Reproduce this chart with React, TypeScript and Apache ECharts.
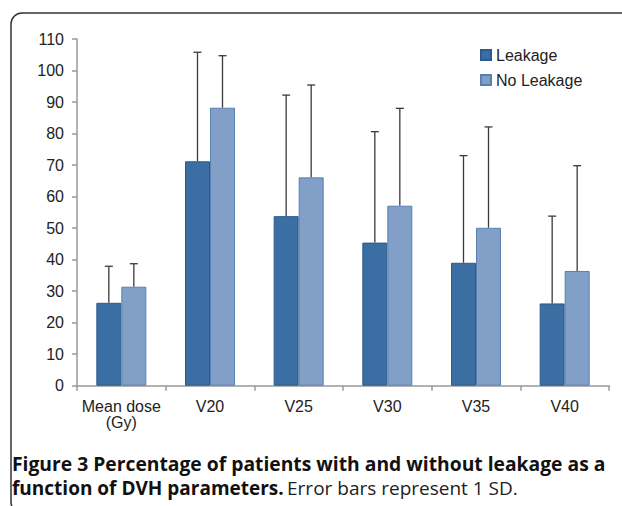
import React, { useEffect, useRef } from "react";
import * as echarts from "echarts";

const categories = ["Mean dose\n(Gy)", "V20", "V25", "V30", "V35", "V40"];
const leakage = [26.3, 71.2, 53.8, 45.4, 39.0, 26.1];
const noLeakage = [31.4, 88.2, 66.1, 57.1, 50.1, 36.4];
const leakageSD = [11.6, 34.6, 38.4, 35.2, 34.0, 27.7];
const noLeakageSD = [7.3, 16.5, 29.3, 30.9, 32.0, 33.4];
const yTicks = [0, 10, 20, 30, 40, 50, 60, 70, 80, 90, 100, 110];

const BAR_W = 25;

function errorSeries(name: string, means: number[], sds: number[], offset: number) {
  return {
    type: "custom",
    name: name + " SD",
    silent: true,
    z: 1,
    data: means.map((m, i) => [i, m, sds[i]]),
    encode: { x: 0, y: 1 },
    renderItem: (params: any, api: any) => {
      const i = api.value(0);
      const m = api.value(1);
      const sd = api.value(2);
      const p0 = api.coord([i, m]);
      const p1 = api.coord([i, m + sd]);
      const x = p0[0] + offset;
      const style = { stroke: "#3a3a3a", lineWidth: 1.3 };
      return {
        type: "group",
        children: [
          { type: "line", shape: { x1: x, y1: p0[1], x2: x, y2: p1[1] }, style },
          { type: "line", shape: { x1: x - 4, y1: p1[1], x2: x + 4, y2: p1[1] }, style },
        ],
      };
    },
  };
}

export default function App() {
  const ref = useRef<HTMLDivElement>(null);
  useEffect(() => {
    if (!ref.current) return;
    const chart = echarts.init(ref.current, undefined, { renderer: "svg" });
    const axisFont = "Liberation Sans";
    chart.setOption({
      animation: false,
      grid: { left: 77, right: 13, top: 39, bottom: 120.3, containLabel: false },
      legend: {
        orient: "vertical",
        left: 475,
        top: 42,
        itemWidth: 10,
        itemHeight: 10,
        itemGap: 9,
        data: ["Leakage", "No Leakage"],
        textStyle: { fontFamily: axisFont, fontSize: 16, color: "#222" },
        icon: "rect",
      },
      xAxis: {
        type: "category",
        data: categories,
        axisLine: { lineStyle: { color: "#999", width: 1.5 } },
        axisTick: { show: true, length: 5, alignWithLabel: false, lineStyle: { color: "#999", width: 1.5 } },
        axisLabel: { interval: 0, fontFamily: axisFont, fontSize: 16, color: "#222", margin: 13, lineHeight: 16 },
      },
      yAxis: {
        type: "value",
        min: yTicks[0],
        max: yTicks[yTicks.length - 1],
        interval: 10,
        splitLine: { show: false },
        axisLine: { show: true, lineStyle: { color: "#999", width: 1.5 } },
        axisTick: { show: true, length: 5, lineStyle: { color: "#999", width: 1.5 } },
        axisLabel: { fontFamily: axisFont, fontSize: 16, color: "#222", margin: 13 },
      },
      series: [
        {
          type: "bar",
          name: "Leakage",
          data: leakage,
          barWidth: BAR_W,
          barGap: "0%",
          z: 2,
          itemStyle: { color: "#3b6ea3", borderColor: "#2d5a8a", borderWidth: 1 },
        },
        {
          type: "bar",
          name: "No Leakage",
          data: noLeakage,
          barWidth: BAR_W,
          barGap: "0%",
          z: 2,
          itemStyle: { color: "#819fc7", borderColor: "#5a7fb1", borderWidth: 1 },
        },
        errorSeries("Leakage", leakage, leakageSD, -BAR_W / 2),
        errorSeries("No Leakage", noLeakage, noLeakageSD, BAR_W / 2),
      ],
      graphic: [
        {
          type: "rect",
          shape: { x: 11, y: 13, width: 660, height: 500, r: 11 },
          style: { fill: "none", stroke: "#333", lineWidth: 1.5 },
          silent: true,
          z: -10,
        },
        {
          type: "text",
          left: 12,
          top: 454,
          style: {
            text: "Figure 3 Percentage of patients with and without leakage as a",
            font: "bold 19.3px 'Open Sans', sans-serif",
            fill: "#111",
          },
        },
        {
          type: "text",
          left: 12,
          top: 478,
          style: {
            text: "{b|function of DVH parameters.} {r|Error bars represent 1 SD.}",
            rich: {
              b: { font: "bold 19px 'Open Sans', sans-serif", fill: "#111" },
              r: { font: "19px 'Open Sans', sans-serif", fill: "#222" },
            },
          },
        },
      ],
    });
    return () => chart.dispose();
  }, []);
  return (
    <div
      ref={ref}
      style={{ position: "fixed", left: 0, top: 0, width: 622, height: 506, background: "#fff" }}
    />
  );
}
